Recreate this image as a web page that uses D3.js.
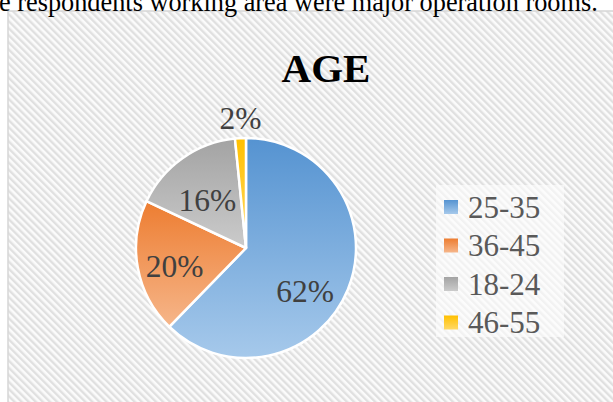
<!DOCTYPE html>
<html>
<head>
<meta charset="utf-8">
<script src="https://cdn.jsdelivr.net/npm/d3@7"></script>
<style>
  body { margin: 0; background: #fff; }
  svg { display: block; font-family: "Liberation Serif", "Times New Roman", serif; }
</style>
</head>
<body>
<div id="viz"></div>
<script>
// age groups, in slice order (clockwise from 12 o'clock)
const categories = ['25-35', '36-45', '18-24', '46-55'];
const shares = [62.3, 19.7, 16.4, 1.6];
const topColors = ['#5593d1', '#ed7d31', '#a3a3a3', '#ffc000'];
const bottomColors = ['#a6c9eb', '#f6b68a', '#cbcbcb', '#ffd966'];
const chartTitle = 'AGE';
const captionText = 'e respondents working area were major operation rooms.';

const width = 613, height = 402;
const data = categories.map((c, i) => ({ cat: c, value: shares[i], i }));
const total = d3.sum(shares);

// small nudges of the data labels (Excel "best fit" placement)
const labelNudge = [[-6, 16], [-2, 5], [2, 9], [1, 1]];

const svg = d3.select('#viz').append('svg')
  .attr('width', width)
  .attr('height', height);

const defs = svg.append('defs');

// diagonal hatch of the chart area
const hatch = defs.append('pattern')
  .attr('id', 'hatch')
  .attr('patternUnits', 'userSpaceOnUse')
  .attr('width', 5)
  .attr('height', 5)
  .attr('patternTransform', 'rotate(-45)');
hatch.append('rect').attr('width', 5).attr('height', 5).attr('fill', '#fbfbfb');
hatch.append('rect').attr('width', 2.4).attr('height', 5).attr('fill', '#e0e0e0');

// one vertical gradient per slice
data.forEach(d => {
  const g = defs.append('linearGradient')
    .attr('id', 'grad' + d.i)
    .attr('x1', 0).attr('y1', 0).attr('x2', 0).attr('y2', 1);
  g.append('stop').attr('offset', '0%').attr('stop-color', topColors[d.i]);
  g.append('stop').attr('offset', '100%').attr('stop-color', bottomColors[d.i]);
});

// chart frame
svg.append('rect')
  .attr('x', 8)
  .attr('y', 11)
  .attr('width', 620)
  .attr('height', 400)
  .attr('fill', 'url(#hatch)')
  .attr('stroke', '#d6d6d6')
  .attr('stroke-width', 1.5);

// text of the page above the chart (cut off at the top)
svg.append('text')
  .attr('x', -1)
  .attr('y', 10.5)
  .style('font-size', '26.3px')
  .attr('fill', '#000')
  .text(captionText);

svg.append('text')
  .attr('x', 326)
  .attr('y', 82)
  .attr('text-anchor', 'middle')
  .style('font-size', '41px')
  .style('font-weight', 'bold')
  .attr('fill', '#000')
  .text(chartTitle);

// pie
const cx = 246, cy = 248, radius = 110;
const pie = d3.pie().sort(null).value(d => d.value);
const arc = d3.arc().innerRadius(0).outerRadius(radius);
const arcs = pie(data);

const pieG = svg.append('g').attr('transform', `translate(${cx},${cy})`);

pieG.selectAll('path')
  .data(arcs)
  .enter().append('path')
  .attr('d', arc)
  .attr('fill', d => `url(#grad${d.data.i})`)
  .attr('stroke', '#fff')
  .attr('stroke-width', 2.5)
  .attr('stroke-linejoin', 'round');

const inLabel = d3.arc().innerRadius(radius * 0.64).outerRadius(radius * 0.64);
const outLabel = d3.arc().innerRadius(radius * 1.19).outerRadius(radius * 1.19);
const fmt = d3.format('.0%');

pieG.selectAll('text.lbl')
  .data(arcs)
  .enter().append('text')
  .attr('class', 'lbl')
  .attr('transform', d => {
    const small = d.value / total < 0.05;
    const [x, y] = (small ? outLabel : inLabel).centroid(d);
    const [nx, ny] = labelNudge[d.data.i];
    return `translate(${x + nx},${y + ny})`;
  })
  .attr('text-anchor', 'middle')
  .attr('dy', '0.35em')
  .style('font-size', '31.5px')
  .attr('fill', '#404040')
  .text(d => fmt(d.value / total));

// legend
const legend = svg.append('g')
  .attr('class', 'legend')
  .attr('transform', 'translate(436, 185)');

legend.append('rect')
  .attr('width', 128)
  .attr('height', 152)
  .attr('fill', '#fdfdfd')
  .attr('opacity', 0.6);

const legendItem = legend.selectAll('.legend-item')
  .data(data)
  .enter().append('g')
  .attr('class', 'legend-item')
  .attr('transform', (d, i) => `translate(8, ${22 + i * 38.5})`);

legendItem.append('rect')
  .attr('x', 0)
  .attr('y', -7)
  .attr('width', 14)
  .attr('height', 14)
  .attr('fill', d => `url(#grad${d.i})`);

legendItem.append('text')
  .attr('x', 24)
  .attr('dy', '0.35em')
  .style('font-size', '31px')
  .attr('fill', '#595959')
  .text(d => d.cat);
</script>
</body>
</html>
